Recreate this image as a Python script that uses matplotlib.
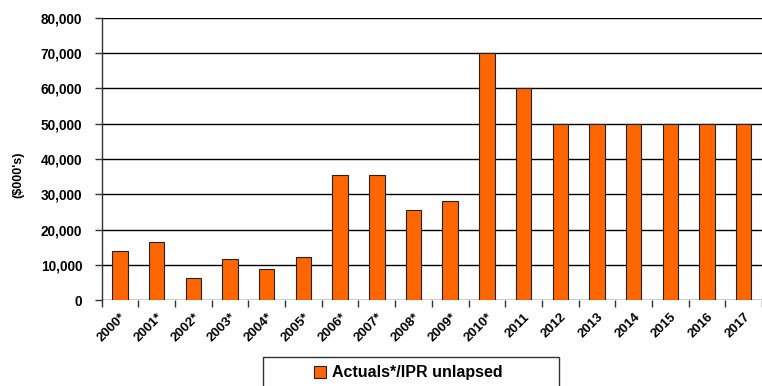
import matplotlib
matplotlib.use("Agg")
import matplotlib.pyplot as plt
from matplotlib.patches import Rectangle
from matplotlib.ticker import FuncFormatter, MultipleLocator
from matplotlib.transforms import ScaledTranslation
import numpy as np

plt.rcParams["font.family"] = ["Liberation Sans", "DejaVu Sans"]
plt.rcParams["font.weight"] = "bold"

years = ["2000*", "2001*", "2002*", "2003*", "2004*", "2005*", "2006*", "2007*",
         "2008*", "2009*", "2010*", "2011", "2012", "2013", "2014", "2015",
         "2016", "2017"]
values = [14000, 16400, 6100, 11500, 8700, 12300, 35600, 35400,
          25500, 28000, 70000, 60000, 50000, 50000, 50000, 50000,
          50000, 50000]
series_name = "Actuals*/IPR unlapsed"

fig = plt.figure(figsize=(7.62, 3.86), dpi=100)
ax = fig.add_axes([101.7 / 762, 86 / 386, 1 - 101.7 / 762, 282 / 386])

x = np.arange(len(years))
ax.bar(x, values, width=0.42, color="#FF6600", edgecolor="#222222",
       linewidth=0.8, zorder=3, label=series_name)

ax.set_xlim(-0.5, len(years) - 0.5)
ax.set_ylim(0, 80000)
ax.yaxis.set_major_locator(MultipleLocator(10000))
ax.yaxis.set_major_formatter(FuncFormatter(lambda v, p: f"{int(v):,}"))
ax.grid(axis="y", color="black", linewidth=1.0, zorder=0)
ax.set_axisbelow(True)

for s in ["top", "right", "bottom"]:
    ax.spines[s].set_visible(False)
ax.spines["left"].set_color("#333333")
ax.spines["left"].set_linewidth(1.0)

ax.tick_params(axis="y", labelsize=9.8, length=5, width=1, color="#333333", pad=9)
ax.set_xticks(x)
ax.set_xticklabels(years, rotation=45, ha="right", va="top",
                   rotation_mode="anchor", fontsize=9.5)
shift = ScaledTranslation(-4 / 100, 0, fig.dpi_scale_trans)
for lbl in ax.get_xticklabels():
    lbl.set_transform(lbl.get_transform() + shift)
ax.tick_params(axis="x", which="major", length=0, pad=8)
ax.set_xticks(np.arange(len(years) + 1) - 0.5, minor=True)
ax.tick_params(axis="x", which="minor", length=5, width=1, color="#333333")

fig.text(18 / 762, 1 - 175 / 386, "($000's)", rotation=90, ha="center",
         va="center", fontsize=9, fontweight="bold")

fig.patches.append(Rectangle((263 / 762, -0.05), (559 - 263) / 762,
                             0.05 + 1 - 357 / 386, transform=fig.transFigure,
                             fill=False, edgecolor="#333333", linewidth=1.0))
fig.legend(loc="center left", bbox_to_anchor=(314 / 762, 1 - 373 / 386),
           frameon=False, fontsize=11.5, handlelength=0.75, handleheight=0.75,
           handletextpad=0.35, borderpad=0, borderaxespad=0)

fig.savefig("out.png", dpi=100)
